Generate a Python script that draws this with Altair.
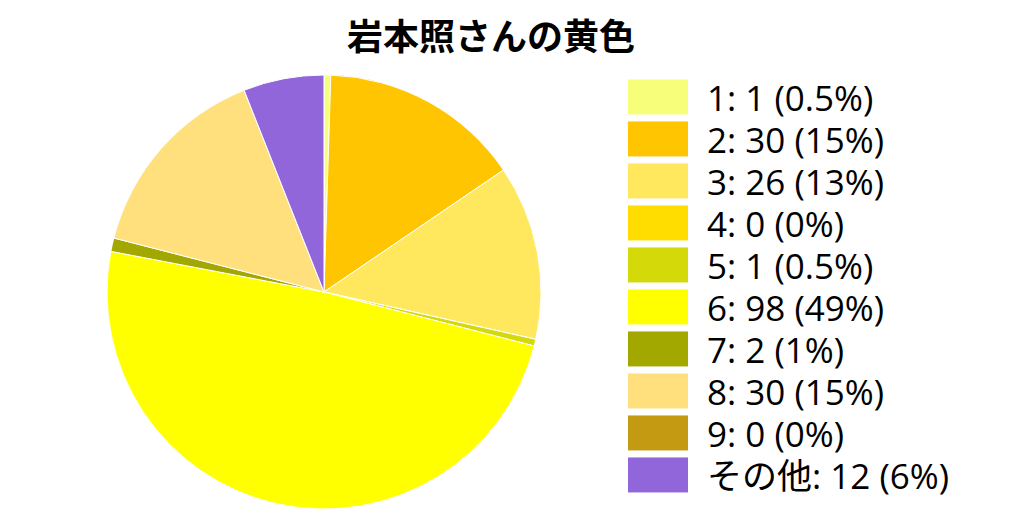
import altair as alt
import pandas as pd

categories = ["1", "2", "3", "4", "5", "6", "7", "8", "9", "その他"]
counts = [1, 30, 26, 0, 1, 98, 2, 30, 0, 12]
percents = ["0.5%", "15%", "13%", "0%", "0.5%", "49%", "1%", "15%", "0%", "6%"]
colors = ["#f7ff7a", "#ffc500", "#ffe75e", "#ffdd00", "#d4d90a",
          "#ffff00", "#a3a800", "#ffe07d", "#c49a12", "#9166db"]

labels = [f"{c}: {n} ({p})" for c, n, p in zip(categories, counts, percents)]
df = pd.DataFrame({"label": labels, "count": counts, "idx": list(range(len(labels)))})

chart = alt.Chart(df).mark_arc(radius=217, stroke="white", strokeWidth=1).encode(
    theta=alt.Theta("count:Q", stack=True),
    order=alt.Order("idx:Q"),
    color=alt.Color(
        "label:N",
        scale=alt.Scale(domain=labels, range=colors),
        legend=alt.Legend(
            title=None,
            orient="none",
            legendX=619,
            legendY=-9,
            padding=0,
            symbolType="M-1,-0.69H1V0.49H-1Z",
            symbolSize=3721,
            symbolStrokeWidth=1,
            symbolStrokeColor="white",
            symbolOpacity=1,
            clipHeight=42,
            labelFont="Open Sans, Noto Sans CJK JP",
            labelFontSize=35,
            labelColor="#000000",
            labelBaseline="middle",
            labelOffset=18,
            labelLimit=400,
            rowPadding=0,
        ),
    ),
).properties(
    width=632,
    height=408,
    autosize=alt.AutoSizeParams(type="none"),
    padding={"left": 0, "top": 80, "right": 370, "bottom": 16},
    title=alt.TitleParams(
        "岩本照さんの黄色",
        font="Noto Sans CJK JP",
        fontSize=36,
        fontWeight="bold",
        color="#000000",
        anchor="middle",
        dx=167,
        dy=-11,
    ),
).configure_view(stroke=None)

chart.save("out.html", embed_options={"renderer": "svg", "actions": False})
